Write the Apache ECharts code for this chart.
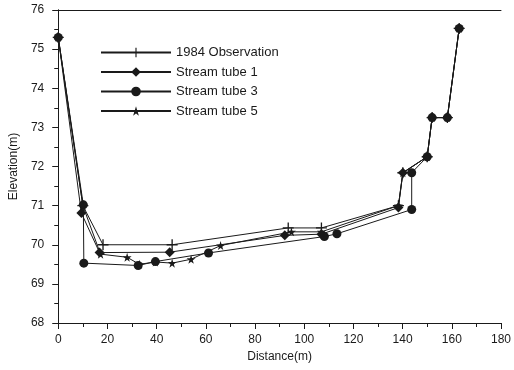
<!DOCTYPE html>
<html>
<head>
<meta charset="utf-8">
<script src="https://cdn.jsdelivr.net/npm/echarts@6/dist/echarts.min.js"></script>
<style>
  html, body { margin: 0; padding: 0; background: #fff; }
  #chart { width: 514px; height: 370px; }
</style>
</head>
<body>
<div id="chart"></div>
<script>
// data: [distance, elevation]
var obs1984 = [[0, 75.3], [10, 71.0], [18.2, 70.0], [46.3, 70.0], [93.5, 70.43], [107, 70.43],
    [138.3, 71.0], [140.1, 71.84], [150, 72.25], [152, 73.25], [158.2, 73.25], [163, 75.53]];
var tube1 = [[0, 75.3], [9.4, 70.81], [16.8, 69.8], [45.3, 69.81], [92.1, 70.24], [107, 70.27],
    [138.3, 70.95], [140.1, 71.84], [150, 72.25], [152, 73.25], [158.2, 73.25], [163, 75.53]];
var tube3 = [[0, 75.3], [10.2, 71.02], [10.4, 69.53], [32.5, 69.47], [39.5, 69.57], [61.1, 69.79],
    [108.2, 70.21], [113.3, 70.28], [143.7, 70.9], [143.7, 71.84], [150, 72.25], [152, 73.25],
    [158.2, 73.25], [163, 75.53]];
var tube5 = [[0, 75.3], [10, 71.0], [17.2, 69.76], [28, 69.68], [33, 69.5], [39.5, 69.56],
    [46.3, 69.53], [54, 69.63], [66, 69.98], [94.8, 70.33], [107, 70.33], [138.3, 71.0],
    [140.1, 71.84], [150, 72.25], [152, 73.25], [158.2, 73.25], [163, 75.53]];
var seriesNames = ['1984 Observation', 'Stream tube 1', 'Stream tube 3', 'Stream tube 5'];

var plusPath = 'path://M4.4,0H5.6V4.4H10V5.6H5.6V10H4.4V5.6H0V4.4H4.4Z';
var starPath = 'path://M50,0L61,35L98,35L68,57L79,91L50,70L21,91L32,57L2,35L39,35Z';

var font = 'Liberation Sans, Arial, sans-serif';
var ink = '#1a1a1a';

function makeSeries(name, data, symbol, size) {
    return {
        name: name, type: 'line', data: data,
        symbol: symbol, symbolSize: size,
        lineStyle: { color: ink, width: 1 },
        itemStyle: { color: ink },
        animation: false
    };
}

var myChart = echarts.init(document.getElementById('chart'));
var option = {
    backgroundColor: '#fff',
    textStyle: { fontFamily: font, color: ink },
    grid: { left: 54, right: 12, top: 10, bottom: 47 },
    legend: {
        left: 100, top: 46, orient: 'vertical', padding: 0,
        itemWidth: 70, itemHeight: 12, itemGap: 6.5,
        textStyle: { fontFamily: font, fontSize: 13, color: ink },
        data: seriesNames
    },
    xAxis: [{
        type: 'value', min: 0, max: 180, interval: 20,
        name: 'Distance(m)', nameLocation: 'middle', nameGap: 25,
        nameTextStyle: { fontFamily: font, fontSize: 12, color: ink },
        axisLine: { onZero: false, lineStyle: { color: ink, width: 1 } },
        axisTick: { inside: false, length: 6, lineStyle: { color: ink } },
        minorTick: { show: true, splitNumber: 2, length: 4, lineStyle: { color: ink } },
        axisLabel: { fontFamily: font, fontSize: 12, color: ink, margin: 11 },
        splitLine: { show: false }
    }, {
        type: 'value', min: 0, max: 180, position: 'top',
        axisLine: { show: true, lineStyle: { color: ink, width: 1 } },
        axisTick: { show: false }, axisLabel: { show: false }, splitLine: { show: false }
    }],
    yAxis: [{
        type: 'value', min: 68, max: 76, interval: 1,
        name: 'Elevation(m)', nameLocation: 'middle', nameGap: 38,
        nameTextStyle: { fontFamily: font, fontSize: 12, color: ink },
        axisLine: { show: true, onZero: false, lineStyle: { color: ink, width: 1 } },
        axisTick: { show: true, length: 6, lineStyle: { color: ink } },
        minorTick: { show: true, splitNumber: 2, length: 4, lineStyle: { color: ink } },
        axisLabel: { fontFamily: font, fontSize: 12, color: ink, margin: 14 },
        splitLine: { show: false }
    }, {
        type: 'value', min: 68, max: 76, position: 'right',
        axisLine: { show: true, lineStyle: { color: ink, width: 1 } },
        axisTick: { show: false }, axisLabel: { show: false }, splitLine: { show: false }
    }],
    series: [
        makeSeries(seriesNames[0], obs1984, plusPath, 11),
        makeSeries(seriesNames[1], tube1, 'diamond', 10),
        makeSeries(seriesNames[2], tube3, 'circle', 9),
        makeSeries(seriesNames[3], tube5, starPath, 9)
    ]
};
myChart.setOption(option);
</script>
</body>
</html>
